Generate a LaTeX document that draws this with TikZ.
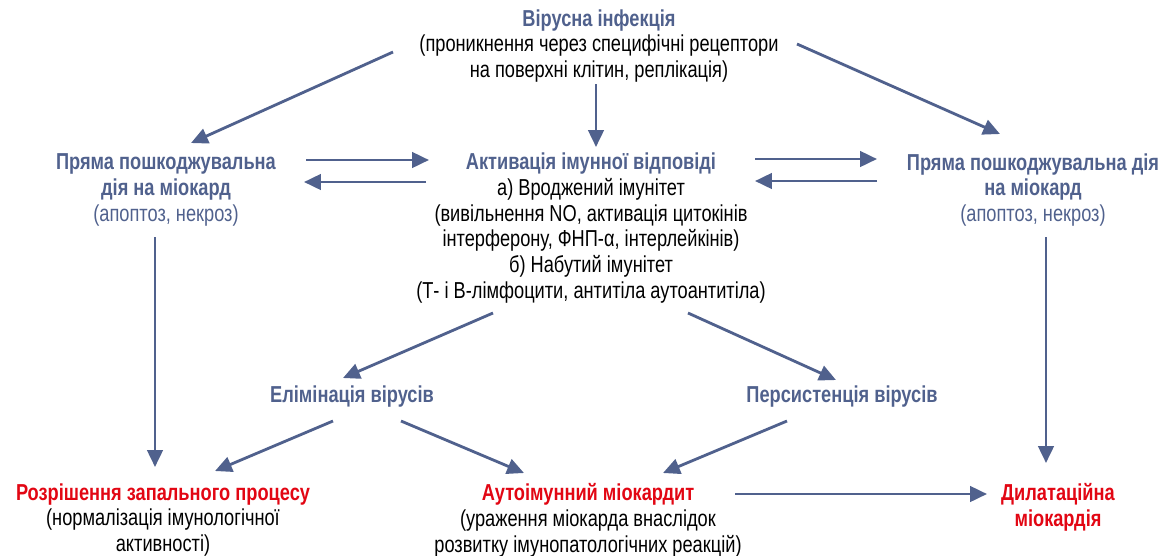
\documentclass[tikz,border=0pt]{standalone}
\usepackage{fontspec}
\setmainfont{Liberation Sans}[FakeStretch=0.79]
\usetikzlibrary{arrows.meta,calc}

\definecolor{schemeblue}{RGB}{80,97,141}
\definecolor{schemered}{RGB}{226,6,19}
\newcommand{\bluetitle}[1]{{\bfseries\color{schemeblue}#1}}
\newcommand{\redtitle}[1]{{\bfseries\color{schemered}#1}}

\begin{document}
\begin{tikzpicture}[x=0.025cm, y=-0.025cm,
node_style/.style={align=center, inner sep=0pt, font=\fontsize{16.4}{18.4}\selectfont},
edge_style/.style={draw=schemeblue, line width=2pt, -{Triangle[length=12pt,width=11pt]}}]
\useasboundingbox (0,0) rectangle (1166,555);

\node[node_style] (virus) at (599,46) {\bluetitle{Вірусна інфекція}\\(проникнення через специфічні рецептори\\на поверхні клітин, реплікація)};
\node[node_style] (left) at (166,190) {\bluetitle{Пряма пошкоджувальна}\\\bluetitle{дія на міокард}\\{\color{schemeblue}(апоптоз, некроз)}};
\node[node_style] (immune) at (591,228) {\bluetitle{Активація імунної відповіді}\\а) Вроджений імунітет\\(вивільнення NO, активація цитокінів\\інтерферону, ФНП-α, інтерлейкінів)\\б) Набутий імунітет\\(Т- і В-лімфоцити, антитіла аутоантитіла)};
\node[node_style] (right) at (1033,190) {\bluetitle{Пряма пошкоджувальна дія}\\\bluetitle{на міокард}\\{\color{schemeblue}(апоптоз, некроз)}};
\node[node_style] (elim) at (352,397) {\bluetitle{Елімінація вірусів}};
\node[node_style] (persist) at (842,397) {\bluetitle{Персистенція вірусів}};
\node[node_style] (resolve) at (163,520) {\redtitle{Розрішення запального процесу}\\(нормалізація імунологічної\\активності)};
\node[node_style] (autoimm) at (588,520) {\redtitle{Аутоімунний міокардит}\\(ураження міокарда внаслідок\\розвитку імунопатологічних реакцій)};
\node[node_style] (dilat) at (1058,507) {\redtitle{Дилатаційна}\\\redtitle{міокардія}};

\draw[edge_style] ($(virus)+(-206,6)$) -- ($(left)+(25,-47)$);
\draw[edge_style] ($(virus)+(-3,38)$) -- ($(immune)+(5,-81)$);
\draw[edge_style] ($(virus)+(198,-2)$) -- ($(right)+(-33,-56)$);
\draw[edge_style] ($(left)+(140,-30)$) -- ($(immune)+(-162,-68)$);
\draw[edge_style] ($(immune)+(-165,-46)$) -- ($(left)+(138,-8)$);
\draw[edge_style] ($(immune)+(164,-69)$) -- ($(right)+(-156,-31)$);
\draw[edge_style] ($(right)+(-156,-9)$) -- ($(immune)+(164,-47)$);
\draw[edge_style] ($(left)+(-11,47)$) -- ($(resolve)+(-8,-53)$);
\draw[edge_style] ($(right)+(13,47)$) -- ($(dilat)+(-12,-44)$);
\draw[edge_style] ($(immune)+(-98,85)$) -- ($(elim)+(-9,-19)$);
\draw[edge_style] ($(immune)+(97,85)$) -- ($(persist)+(-6,-17)$);
\draw[edge_style] ($(elim)+(-19,24)$) -- ($(resolve)+(52,-49)$);
\draw[edge_style] ($(elim)+(49,24)$) -- ($(autoimm)+(-64,-47)$);
\draw[edge_style] ($(persist)+(-55,24)$) -- ($(autoimm)+(75,-47)$);
\draw[edge_style] ($(autoimm)+(147,-26)$) -- ($(dilat)+(-71,-13)$);

\end{tikzpicture}
\end{document}
